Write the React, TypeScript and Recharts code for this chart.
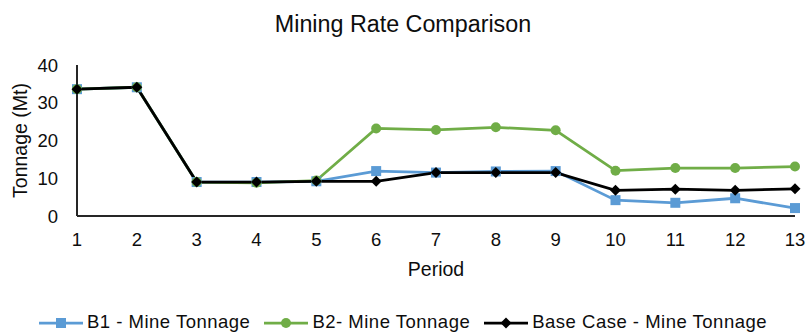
import { LineChart, Line, XAxis, YAxis, Legend } from 'recharts'

const periods = ['1', '2', '3', '4', '5', '6', '7', '8', '9', '10', '11', '12', '13']
const b1Tonnage = [33.6, 34.1, 9.0, 9.0, 9.2, 11.9, 11.5, 11.8, 11.9, 4.2, 3.5, 4.7, 2.1]
const b2Tonnage = [33.6, 34.1, 9.0, 8.8, 9.4, 23.2, 22.8, 23.5, 22.7, 12.0, 12.7, 12.7, 13.1]
const baseTonnage = [33.6, 34.1, 9.0, 9.0, 9.2, 9.2, 11.5, 11.5, 11.5, 6.8, 7.1, 6.8, 7.2]
const yTicks = [0, 10, 20, 30, 40]

const BLUE = '#5B9BD5'
const GREEN = '#70AD47'
const BLACK = '#000000'
const FONT = '"Liberation Sans", Arial, sans-serif'
const TEXT = '#0d0d0d'

const data = periods.map((p, i) => ({
  period: p,
  b1: b1Tonnage[i],
  b2: b2Tonnage[i],
  base: baseTonnage[i],
}))

type DotProps = { cx?: number; cy?: number; index?: number }

const SquareDot = ({ cx, cy, index }: DotProps) =>
  cx == null || cy == null ? null : (
    <rect key={`sq-${index}`} x={cx - 5} y={cy - 5} width={10} height={10} fill={BLUE} />
  )

const CircleDot = ({ cx, cy, index }: DotProps) =>
  cx == null || cy == null ? null : <circle key={`ci-${index}`} cx={cx} cy={cy} r={5} fill={GREEN} />

const DiamondDot = ({ cx, cy, index }: DotProps) =>
  cx == null || cy == null ? null : (
    <polygon
      key={`di-${index}`}
      points={`${cx},${cy - 5.5} ${cx + 5.5},${cy} ${cx},${cy + 5.5} ${cx - 5.5},${cy}`}
      fill={BLACK}
    />
  )

const legendItems = [
  { label: 'B1 - Mine Tonnage', color: BLUE, marker: 'square' },
  { label: 'B2- Mine Tonnage', color: GREEN, marker: 'circle' },
  { label: 'Base Case - Mine Tonnage', color: BLACK, marker: 'diamond' },
]

function LegendRow() {
  return (
    <div
      style={{
        display: 'flex',
        justifyContent: 'center',
        alignItems: 'center',
        height: 22,
        lineHeight: '22px',
        fontFamily: FONT,
        fontSize: 18.5,
        letterSpacing: 0.5,
        color: TEXT,
        whiteSpace: 'nowrap',
      }}
    >
      {legendItems.map((item, i) => (
        <div key={item.label} style={{ display: 'flex', alignItems: 'center', marginLeft: i === 0 ? 0 : 14 }}>
          <svg width={44} height={14} style={{ marginRight: 4, marginTop: 2 }}>
            <line x1={0} y1={7} x2={44} y2={7} stroke={item.color} strokeWidth={2.75} />
            {item.marker === 'square' && <rect x={17} y={2} width={10} height={10} fill={item.color} />}
            {item.marker === 'circle' && <circle cx={22} cy={7} r={5} fill={item.color} />}
            {item.marker === 'diamond' && <polygon points="22,1.5 27.5,7 22,12.5 16.5,7" fill={item.color} />}
          </svg>
          <span>{item.label}</span>
        </div>
      ))}
    </div>
  )
}

export default function App() {
  return (
    <div style={{ position: 'absolute', left: 0, top: 0, width: 806, height: 333, background: '#fff', overflow: 'hidden' }}>
      <div
        style={{
          position: 'absolute',
          left: 0,
          top: 9.5,
          width: 806,
          textAlign: 'center',
          fontFamily: FONT,
          fontSize: 23.3,
          color: TEXT,
          lineHeight: '28px',
        }}
      >
        Mining Rate Comparison
      </div>
      <LineChart width={806} height={333} data={data} margin={{ top: 65, right: 11, left: 0, bottom: 0 }}>
        <XAxis
          dataKey="period"
          height={95}
          axisLine={{ stroke: '#262626', strokeWidth: 2 }}
          tickLine={false}
          tickMargin={11}
          tick={{ fill: TEXT, fontSize: 18.5, fontFamily: FONT }}
          label={{ value: 'Period', position: 'insideBottom', offset: 35, fill: TEXT, fontSize: 19.5, fontFamily: FONT }}
        />
        <YAxis
          width={77}
          domain={[0, 40]}
          ticks={yTicks}
          axisLine={{ stroke: '#262626', strokeWidth: 2 }}
          tickLine={false}
          tickMargin={13}
          tick={{ fill: TEXT, fontSize: 18.5, fontFamily: FONT }}
          label={{
            value: 'Tonnage (Mt)',
            angle: -90,
            position: 'insideLeft',
            offset: 20,
            fill: TEXT,
            fontSize: 19.5,
            fontFamily: FONT,
            style: { textAnchor: 'middle' },
          }}
        />
        <Legend
          verticalAlign="bottom"
          content={() => <LegendRow />}
          wrapperStyle={{ top: 311, bottom: 'auto', left: 0, width: 806, height: 22 }}
        />
        <Line dataKey="b1" stroke={BLUE} strokeWidth={2.75} dot={SquareDot} activeDot={false} isAnimationActive={false} />
        <Line dataKey="b2" stroke={GREEN} strokeWidth={2.75} dot={CircleDot} activeDot={false} isAnimationActive={false} />
        <Line dataKey="base" stroke={BLACK} strokeWidth={2.75} dot={DiamondDot} activeDot={false} isAnimationActive={false} />
      </LineChart>
    </div>
  )
}
